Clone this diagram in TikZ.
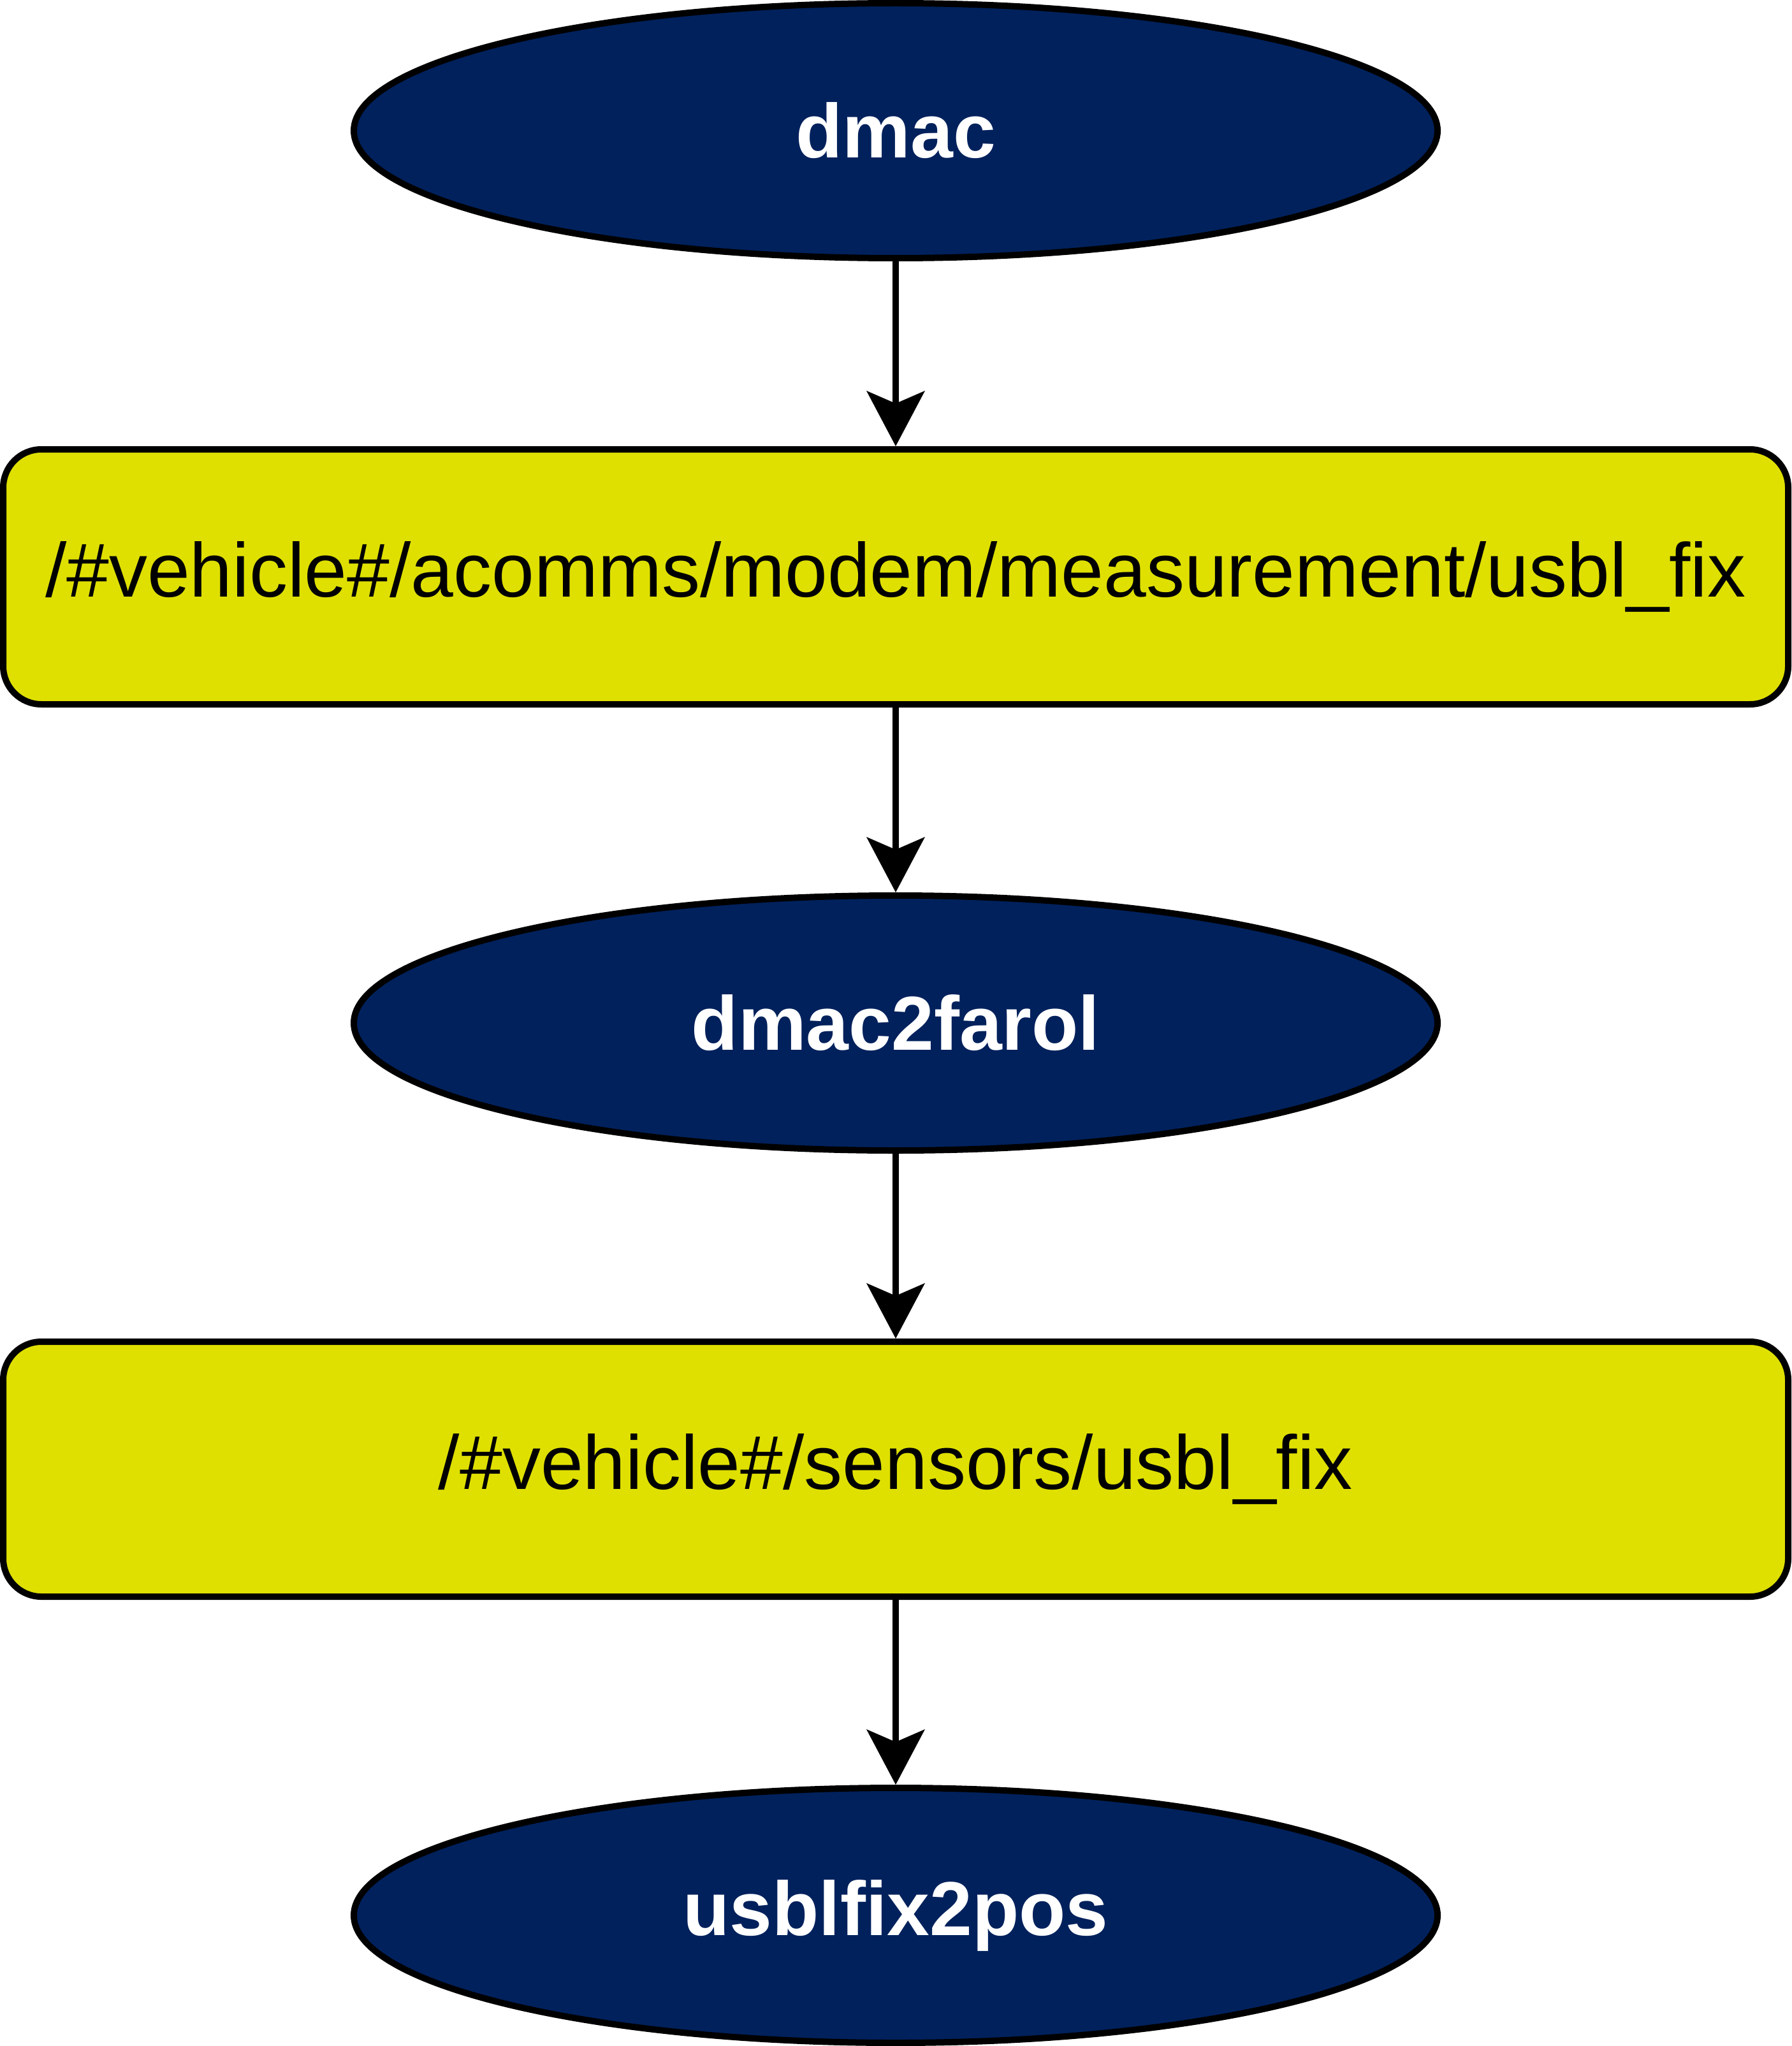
\documentclass[tikz,border=0pt]{standalone}
\usepackage{fontspec}
\setmainfont{Liberation Sans}
\usetikzlibrary{arrows.meta,shapes.geometric,positioning}
\definecolor{rosnode}{RGB}{0,33,92}
\definecolor{rostopic}{RGB}{223,224,0}

\begin{document}
\begin{tikzpicture}[
    >={Stealth[length=21.75pt,width=23pt,inset=5pt,line width=0pt]},
    nodebox/.style={ellipse,draw=black,fill=rosnode,line width=2.5pt,
                minimum width=425pt,minimum height=100pt,inner sep=0pt,
                font=\fontsize{30}{36}\selectfont\bfseries,text=white},
    topicbox/.style={rectangle,draw=black,fill=rostopic,rounded corners=15pt,
                line width=2.5pt,minimum width=700pt,minimum height=100pt,inner sep=0pt,
                font=\fontsize{30}{36}\selectfont,text=black},
    arr/.style={->,line width=2.5pt,black}
  ]
  \useasboundingbox (0pt,0pt) rectangle (702.5pt,-802.5pt);
  \node[nodebox]  (dmac)  at (351.25pt,-51.25pt)  {dmac};
  \node[topicbox] (meas)  at (351.25pt,-226.25pt) {/\#vehicle\#/acomms/modem/measurement/usbl\_fix};
  \node[nodebox]  (farol) at (351.25pt,-401.25pt) {dmac2farol};
  \node[topicbox] (fix)   at (351.25pt,-576.25pt) {/\#vehicle\#/sensors/usbl\_fix};
  \node[nodebox]  (pos)   at (351.25pt,-751.25pt) {usblfix2pos};
  \draw[arr] (dmac)  -- (meas);
  \draw[arr] (meas)  -- (farol);
  \draw[arr] (farol) -- (fix);
  \draw[arr] (fix)   -- (pos);
\end{tikzpicture}
\end{document}
